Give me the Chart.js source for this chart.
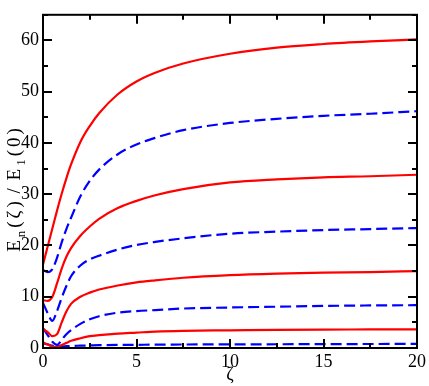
<!DOCTYPE html>
<html>
<head>
<meta charset="utf-8">
<script src="https://cdn.jsdelivr.net/npm/chart.js@4/dist/chart.umd.min.js"></script>
<style>
  html, body { margin: 0; padding: 0; background: #ffffff; }
  #wrap { width: 429px; height: 386px; }
</style>
</head>
<body>
<div id="wrap"><canvas id="levels" width="429" height="386"></canvas></div>
<script>
const zeta = [0, 0.25, 0.5, 0.75, 1, 1.25, 1.5, 2, 2.5, 3, 4, 5, 6, 7.5, 10, 12.5, 15, 17.5, 20];

// solid red and dashed blue levels, top to bottom
const red1 = [16.3, 19.8, 23.3, 26.8, 30.1, 33.1, 35.8, 40.2, 43.3, 45.8, 49.5, 52.0, 53.7, 55.5, 57.4, 58.6, 59.3, 59.8, 60.2];
const blue1 = [15.2, 14.8, 15.4, 17.6, 20.6, 23.2, 25.4, 29.6, 32.6, 34.8, 37.8, 39.7, 41.0, 42.5, 43.9, 44.7, 45.3, 45.7, 46.2];
const red2 = [9.3, 9.2, 10.0, 12.6, 15.5, 17.8, 19.5, 21.9, 23.7, 25.2, 27.3, 28.7, 29.8, 31.0, 32.3, 32.9, 33.3, 33.5, 33.8];
const blue2 = [8.8, 6.8, 5.3, 7.2, 9.8, 12.1, 14.0, 16.1, 17.3, 18.0, 19.2, 20.1, 20.7, 21.4, 22.3, 22.7, 23.0, 23.2, 23.4];
const red3 = [3.7, 3.1, 2.3, 2.7, 5.0, 7.1, 8.6, 10.0, 10.8, 11.4, 12.2, 12.8, 13.2, 13.7, 14.2, 14.5, 14.7, 14.8, 15.0];
const blue3 = [3.9, 2.5, 1.2, 0.6, 1.6, 2.7, 3.5, 4.7, 5.6, 6.2, 6.9, 7.2, 7.4, 7.7, 7.9, 8.05, 8.2, 8.3, 8.35];
const red4 = [1.1, 0.7, 0.3, 0.2, 0.6, 1.0, 1.4, 1.9, 2.3, 2.5, 2.8, 3.0, 3.2, 3.35, 3.45, 3.55, 3.6, 3.62, 3.65];
const blue4 = [0.9, 0.7, 0.45, 0.3, 0.3, 0.35, 0.4, 0.45, 0.5, 0.55, 0.6, 0.62, 0.65, 0.68, 0.7, 0.73, 0.75, 0.78, 0.8];

const xTicks = [0, 5, 10, 15, 20];
const yTicks = [0, 10, 20, 30, 40, 50, 60];

const SERIF = 'Liberation Serif';

function toPoints(values) {
  return values.map((v, i) => ({ x: zeta[i], y: v }));
}

function curve(values, dashed) {
  return {
    data: toPoints(values),
    borderColor: dashed ? '#0000ff' : '#ff0000',
    borderWidth: 2.2,
    borderDash: dashed ? [11, 5] : [],
    pointRadius: 0,
    fill: false,
    cubicInterpolationMode: 'monotone',
  };
}

// frame, inward ticks and the y title with subscripts
const framePlugin = {
  id: 'frame',
  afterDraw(chart) {
    const { ctx, chartArea: a, scales } = chart;
    const xs = scales.x;
    const ys = scales.y;
    ctx.save();
    ctx.strokeStyle = '#000';
    ctx.lineWidth = 2;
    ctx.beginPath();
    for (let v = 0; v <= 20; v += 2.5) {
      const px = Math.round(xs.getPixelForValue(v));
      const len = xTicks.includes(v) ? 9 : 5;
      ctx.moveTo(px, a.bottom); ctx.lineTo(px, a.bottom - len);
      ctx.moveTo(px, a.top); ctx.lineTo(px, a.top + len);
    }
    for (let v = 0; v <= 65; v += 5) {
      const py = Math.round(ys.getPixelForValue(v));
      const len = yTicks.includes(v) ? 9 : 5;
      ctx.moveTo(a.left, py); ctx.lineTo(a.left + len, py);
      ctx.moveTo(a.right, py); ctx.lineTo(a.right - len, py);
    }
    ctx.stroke();
    ctx.strokeRect(a.left, a.top, a.right - a.left, a.bottom - a.top);

    // y title: E_n(ζ) / E_1(0), spaced out like the original
    const parts = [
      ['E', 0], ['n', 1], ['(', 0], ['ζ', 0], [')', 0], [' / ', 0],
      ['E', 0], ['1', 1], ['(', 0], ['0', 0], [')', 0],
    ];
    const gap = 3;
    const big = '19px "' + SERIF + '"';
    const small = '13px "' + SERIF + '"';
    let total = 0;
    parts.forEach(([t, sub]) => {
      ctx.font = sub ? small : big;
      total += ctx.measureText(t).width + gap;
    });
    total -= gap;
    ctx.translate(16, 190);
    ctx.rotate(-Math.PI / 2);
    ctx.fillStyle = '#000';
    ctx.textBaseline = 'alphabetic';
    let cx = -total / 2;
    parts.forEach(([t, sub]) => {
      ctx.font = sub ? small : big;
      ctx.fillText(t, cx, sub ? 9 : 4);
      cx += ctx.measureText(t).width + gap;
    });
    ctx.restore();
  },
};

new Chart(document.getElementById('levels'), {
  type: 'line',
  data: {
    datasets: [
      curve(red1, false),
      curve(blue1, true),
      curve(red2, false),
      curve(blue2, true),
      curve(red3, false),
      curve(blue3, true),
      curve(red4, false),
      curve(blue4, true),
    ],
  },
  options: {
    responsive: false,
    animation: false,
    layout: { padding: { top: 1, right: 8, bottom: 0, left: 0 } },
    plugins: {
      legend: { display: false },
      tooltip: { enabled: false },
    },
    scales: {
      x: {
        type: 'linear',
        min: 0,
        max: 20,
        afterFit: (scale) => { scale.height = 38; },
        afterBuildTicks: (scale) => { scale.ticks = xTicks.map((v) => ({ value: v })); },
        grid: { display: false, drawTicks: false },
        border: { display: false },
        ticks: {
          color: '#000',
          padding: 3,
          maxRotation: 0,
          font: { family: SERIF, size: 18 },
        },
        title: {
          display: true,
          text: 'ζ',
          color: '#000',
          padding: 0,
          font: { family: SERIF, size: 18 },
        },
      },
      y: {
        min: 0,
        max: 65,
        afterFit: (scale) => { scale.width = 43; },
        afterBuildTicks: (scale) => { scale.ticks = yTicks.map((v) => ({ value: v })); },
        grid: { display: false, drawTicks: false },
        border: { display: false },
        ticks: {
          color: '#000',
          padding: 4,
          font: { family: SERIF, size: 18 },
        },
      },
    },
  },
  plugins: [framePlugin],
});
</script>
</body>
</html>
